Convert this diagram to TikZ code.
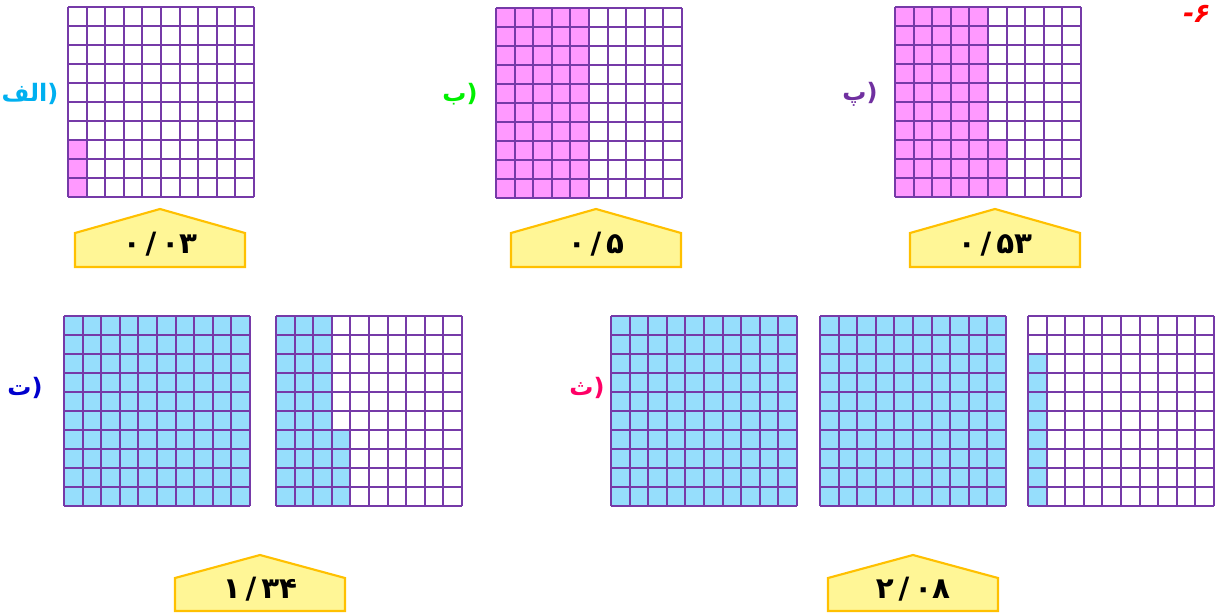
\documentclass[tikz,border=0pt]{standalone}
\usepackage{fontspec}
\newfontfamily\farsi[Script=Arabic]{DejaVu Sans}
\newfontfamily\numfont{DejaVu Sans}
\newfontfamily\numslant[FakeSlant=0.2]{DejaVu Sans}
\TeXXeTstate=1

\definecolor{gridpurple}{RGB}{118,58,168}
\definecolor{cellpink}{RGB}{255,153,255}
\definecolor{cellblue}{RGB}{150,222,252}
\definecolor{tagyellow}{RGB}{255,246,150}
\definecolor{tagorange}{RGB}{255,192,0}
\definecolor{labcyan}{RGB}{0,176,240}
\definecolor{labgreen}{RGB}{0,240,0}
\definecolor{labpurple}{RGB}{112,48,160}
\definecolor{labblue}{RGB}{0,0,205}
\definecolor{labrose}{RGB}{255,0,102}

\begin{document}
\begin{tikzpicture}[
  x=0.75pt, y=-0.75pt,
  gridline/.style={draw=gridpurple, line width=1.5pt},
  pinkcell/.style={fill=cellpink},
  bluecell/.style={fill=cellblue},
  tag/.style={draw=tagorange, fill=tagyellow, line width=1.6pt},
  tagtext/.style={font=\numfont\bfseries\fontsize{22}{26}\selectfont,
                  anchor=base, inner sep=0pt},
  partlabel/.style={font=\farsi\bfseries\fontsize{18}{22}\selectfont,
                    inner sep=0pt},
  hundred/.pic={
    \foreach \k in {0,...,10} {
      \draw[gridline] (\k*18.6,0) -- (\k*18.6,190);
      \draw[gridline] (0,\k*19) -- (186,\k*19);
    }
  }
]
\useasboundingbox (0,0) rectangle (1215,614);

%% ---------- exercise number ----------
\node[font=\numslant\bfseries\fontsize{20}{24}\selectfont, text=red,
      inner sep=0pt] (num) at (1195,14) {\hbox{-}\hbox{۶}};

%% ---------- top row: shaded cells ----------
\fill[pinkcell] (68,140) rectangle (86.6,197);
\fill[pinkcell] (496,8) rectangle (589,198);
\fill[pinkcell] (895,7) rectangle (988,197);
\fill[pinkcell] (988,140) rectangle (1006.6,197);

%% ---------- bottom row: shaded cells ----------
\fill[bluecell] (64,316) rectangle (250,506);
\fill[bluecell] (276,316) rectangle (331.8,506);
\fill[bluecell] (331.8,430) rectangle (350.4,506);
\fill[bluecell] (611,316) rectangle (797,506);
\fill[bluecell] (820,316) rectangle (1006,506);
\fill[bluecell] (1028,354) rectangle (1046.6,506);

%% ---------- hundred grids ----------
\pic at (68,7) {hundred};
\pic at (496,8) {hundred};
\pic at (895,7) {hundred};
\pic at (64,316) {hundred};
\pic at (276,316) {hundred};
\pic at (611,316) {hundred};
\pic at (820,316) {hundred};
\pic at (1028,316) {hundred};

%% ---------- part labels ----------
\node[partlabel, text=labcyan] (alef) at (30,94)
  {\hbox{\beginR الف\endR}\hbox{\numfont)}};
\node[partlabel, text=labgreen] (be) at (460,94)
  {\hbox{\beginR ب\endR}\hbox{\numfont)}};
\node[partlabel, text=labpurple] (pe) at (860,94)
  {\hbox{\beginR پ\endR}\hbox{\numfont)}};
\node[partlabel, text=labblue] (te) at (25,388)
  {\hbox{\beginR ت\endR}\hbox{\numfont)}};
\node[partlabel, text=labrose] (se) at (587,388)
  {\hbox{\beginR ث\endR}\hbox{\numfont)}};

%% ---------- answer tags ----------
\draw[tag] (75,267) -- (75,233) -- (160,209) -- (245,233) -- (245,267) -- cycle;
\node[tagtext] (va) at (160,253) {۰\,/\,۰۳};
\draw[tag] (511,267) -- (511,233) -- (596,209) -- (681,233) -- (681,267) -- cycle;
\node[tagtext] (vb) at (596,253) {۰\,/\,۵};
\draw[tag] (910,267) -- (910,233) -- (995,209) -- (1080,233) -- (1080,267) -- cycle;
\node[tagtext] (vp) at (995,253) {۰\,/\,۵۳};
\draw[tag] (175,611) -- (175,578) -- (260,555) -- (345,578) -- (345,611) -- cycle;
\node[tagtext] (vt) at (260,598) {۱\,/\,۳۴};
\draw[tag] (828,611) -- (828,578) -- (913,555) -- (998,578) -- (998,611) -- cycle;
\node[tagtext] (vs) at (913,598) {۲\,/\,۰۸};
\end{tikzpicture}
\end{document}
